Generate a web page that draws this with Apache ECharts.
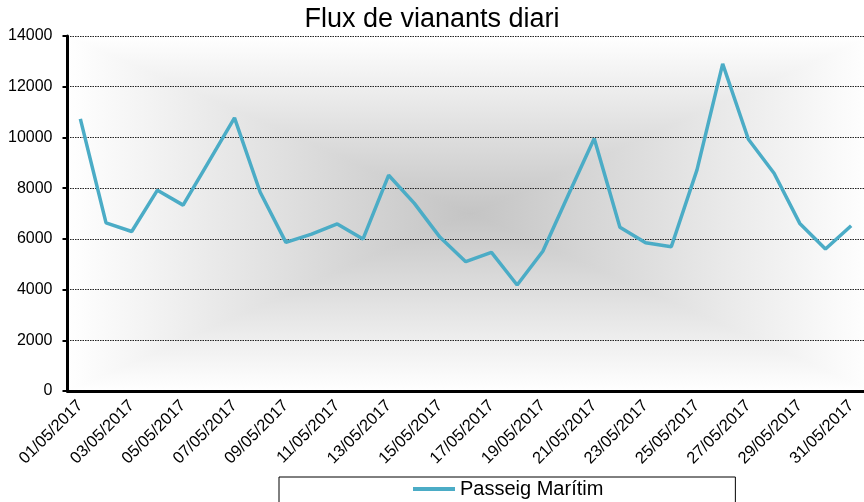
<!DOCTYPE html>
<html>
<head>
<meta charset="utf-8">
<script src="https://cdn.jsdelivr.net/npm/echarts@6/dist/echarts.min.js"></script>
<style>
  html, body { margin: 0; padding: 0; background: #fff; }
  #main { width: 864px; height: 502px; }
</style>
</head>
<body>
<div id="main"></div>
<script>
// dies del mes
var dies = ['01/05/2017', '02/05/2017', '03/05/2017', '04/05/2017', '05/05/2017', '06/05/2017',
  '07/05/2017', '08/05/2017', '09/05/2017', '10/05/2017', '11/05/2017', '12/05/2017',
  '13/05/2017', '14/05/2017', '15/05/2017', '16/05/2017', '17/05/2017', '18/05/2017',
  '19/05/2017', '20/05/2017', '21/05/2017', '22/05/2017', '23/05/2017', '24/05/2017',
  '25/05/2017', '26/05/2017', '27/05/2017', '28/05/2017', '29/05/2017', '30/05/2017',
  '31/05/2017'];
// vianants Passeig Marítim
var passeig = [10730, 6630, 6290, 7920, 7330, 9050, 10770, 7840, 5860, 6190, 6590, 5990,
  8510, 7400, 6060, 5100, 5470, 4180, 5510, 7750, 9960, 6460, 5850, 5690,
  8720, 12900, 9930, 8590, 6610, 5600, 6520];
var yMin = 0, yMax = 14000, yPas = 2000;

var font = 'Liberation Sans, Arial, sans-serif';
var chart = echarts.init(document.getElementById('main'));

// fons de la zona del gràfic (degradat des del centre)
var gl = 67.5, gt = 36, gw = 805, gh = 355;
var cx = gl + gw / 2, cy = gt + gh / 2;
var clar = '#ffffff', fosc = '#c4c4c4';
function triangle(pts, x, y, x2, y2) {
  var g = { type: 'linear', x: x, y: y, x2: x2, y2: y2,
    colorStops: [{ offset: 0, color: clar }, { offset: 1, color: fosc }] };
  return { type: 'polygon', z: -10, silent: true,
    shape: { points: pts }, style: { fill: g, stroke: g, lineWidth: 1 } };
}
var fons = [
  triangle([[gl, gt], [gl + gw, gt], [cx, cy]], 0, 0, 0, 1),
  triangle([[gl, gt + gh], [gl + gw, gt + gh], [cx, cy]], 0, 1, 0, 0),
  triangle([[gl, gt], [gl, gt + gh], [cx, cy]], 0, 0, 1, 0),
  triangle([[gl + gw, gt], [gl + gw, gt + gh], [cx, cy]], 1, 0, 0, 0)
];

var option = {
  backgroundColor: '#fff',
  animation: false,
  title: {
    text: 'Flux de vianants diari',
    left: 'center',
    top: 6,
    padding: 0,
    textStyle: { fontFamily: font, fontSize: 27, fontWeight: 'normal', color: '#000' }
  },
  graphic: fons,
  legend: {
    data: ['Passeig Marítim'],
    left: 279,
    top: 477,
    padding: [2, 132, 12, 132],
    borderColor: '#000',
    borderWidth: 1,
    itemWidth: 42,
    itemHeight: 20,
    itemStyle: { color: 'rgba(0,0,0,0)', borderWidth: 0 },
    lineStyle: { color: '#4bacc6', width: 4 },
    textStyle: { fontFamily: font, fontSize: 20, color: '#000' }
  },
  grid: { left: gl, top: gt, width: gw, height: gh, containLabel: false },
  xAxis: {
    type: 'category',
    data: dies,
    boundaryGap: true,
    axisLine: { lineStyle: { color: '#000', width: 3 } },
    axisTick: { interval: 1, length: 5, lineStyle: { color: '#000', width: 2 } },
    axisLabel: { interval: 1, rotate: 45, margin: 12, fontFamily: font, fontSize: 16.5, color: '#000' },
    splitLine: { show: false }
  },
  yAxis: {
    type: 'value',
    min: yMin, max: yMax, interval: yPas,
    axisLine: { show: true, lineStyle: { color: '#000', width: 3 } },
    axisTick: { show: true, length: 5, lineStyle: { color: '#000', width: 2 } },
    axisLabel: {
      margin: 15, fontFamily: font, fontSize: 16, color: '#000',
      formatter: function (v) { return String(v); }
    },
    splitLine: { lineStyle: { color: '#222', width: 1, type: [1.5, 1] } }
  },
  series: [{
    name: 'Passeig Marítim',
    type: 'line',
    data: passeig,
    symbol: 'none',
    lineStyle: { color: '#4bacc6', width: 3.5 },
    itemStyle: { color: '#4bacc6' }
  }]
};
chart.setOption(option);
</script>
</body>
</html>
